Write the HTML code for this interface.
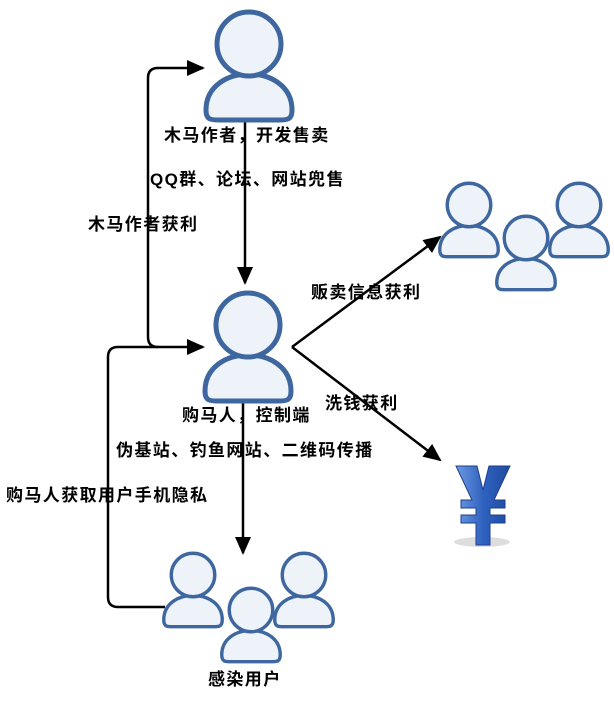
<!DOCTYPE html>
<html><head><meta charset="utf-8"><style>
body{margin:0;background:#fff;width:614px;height:698px;overflow:hidden}
text{font-family:"Liberation Sans","Noto Sans CJK SC",sans-serif;font-weight:bold;font-size:17px;letter-spacing:1.4px;fill:#000}
</style></head><body>
<svg width="614" height="698" viewBox="0 0 614 698" xmlns="http://www.w3.org/2000/svg">
<defs>
<g id="p">
<path d="M-43,66 C-43,18 43,18 43,66 C43,76 38,76 30,76 L-30,76 C-38,76 -43,76 -43,66 Z" fill="#eef2f9" stroke="#3e67a0" stroke-width="5"/>
<circle cx="0" cy="0" r="32" fill="#eef2f9" stroke="#3e67a0" stroke-width="5"/>
</g>
<marker id="b" markerWidth="18" markerHeight="18" refX="16" refY="9" orient="auto" markerUnits="userSpaceOnUse" viewBox="0 0 18 18"><path d="M0,1 L18,9 L0,17Z" fill="#000"/></marker>
<linearGradient id="y" x1="0" y1="0" x2="1" y2="0"><stop offset="0" stop-color="#6f9ae0"/><stop offset="0.5" stop-color="#2f62c0"/><stop offset="1" stop-color="#1f4aa0"/></linearGradient>
</defs>
<g fill="none" stroke="#000" stroke-width="2.5">
<line x1="245" y1="120" x2="245" y2="283" marker-end="url(#b)"/>
<line x1="243" y1="400" x2="243" y2="553" marker-end="url(#b)"/>
<path d="M165,607 L118,607 Q108,607 108,597 L108,357 Q108,347 118,347 L203,347" marker-end="url(#b)"/>
<path d="M158,347 Q148,347 148,337 L148,78 Q148,68 158,68 L203,68" marker-end="url(#b)"/>
<line x1="292" y1="347" x2="440" y2="237" marker-end="url(#b)"/>
<line x1="292" y1="347" x2="440" y2="460" marker-end="url(#b)"/>
</g>
<use href="#p" transform="translate(249,44)"/>
<use href="#p" transform="translate(248,325)"/>
<g transform="translate(469,205) scale(0.68)"><use href="#p"/></g>
<g transform="translate(579,205) scale(0.68)"><use href="#p"/></g>
<g transform="translate(526,238) scale(0.68)"><use href="#p"/></g>
<g transform="translate(193,575) scale(0.68)"><use href="#p"/></g>
<g transform="translate(304,575) scale(0.68)"><use href="#p"/></g>
<g transform="translate(251,610) scale(0.68)"><use href="#p"/></g>
<ellipse cx="482" cy="542" rx="28" ry="5" fill="#ddd"/>
<path d="M456,466 L477,466 L483,490 L489,466 L510,466 L494,500 L505,500 L505,508 L490,508 L490,515 L505,515 L505,523 L490,523 L490,545 L476,545 L476,523 L461,523 L461,515 L476,515 L476,508 L461,508 L461,500 L472,500 Z" fill="url(#y)" stroke="#1d3f8c" stroke-width="1"/>
<text x="164" y="141">木马作者，开发售卖</text>
<text x="150" y="185">QQ群、论坛、网站兜售</text>
<text x="88" y="230">木马作者获利</text>
<text x="311" y="298">贩卖信息获利</text>
<text x="325" y="409">洗钱获利</text>
<text x="182" y="421">购马人，控制端</text>
<text x="116" y="456">伪基站、钓鱼网站、二维码传播</text>
<text x="6" y="501">购马人获取用户手机隐私</text>
<text x="208" y="685">感染用户</text>
</svg>
</body></html>
